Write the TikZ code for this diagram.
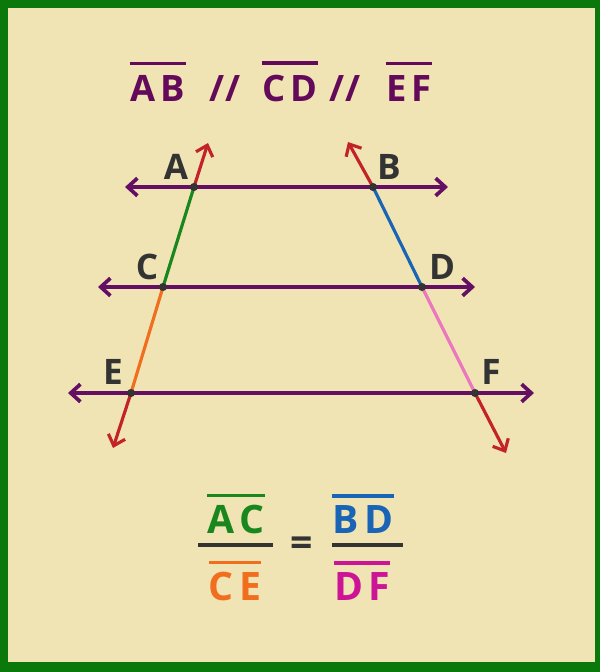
\documentclass[tikz,border=0pt]{standalone}
\usepackage{fontspec}
\setmainfont{Open Sans}
\usetikzlibrary{arrows.meta}

\definecolor{bgcol}{RGB}{240,228,180}
\definecolor{framecol}{RGB}{10,120,10}
\definecolor{parcol}{RGB}{100,15,100}
\definecolor{ttlcol}{RGB}{100,10,90}
\definecolor{raycol}{RGB}{195,35,40}
\definecolor{accol}{RGB}{25,135,30}
\definecolor{cecol}{RGB}{240,110,30}
\definecolor{bdcol}{RGB}{25,100,180}
\definecolor{dfline}{RGB}{235,120,190}
\definecolor{dfcol}{RGB}{205,20,150}
\definecolor{lblcol}{RGB}{51,51,51}

\begin{document}
\begin{tikzpicture}[x=0.02cm, y=-0.02cm,
  pline/.style={line width=2.1pt, parcol, {Straight Barb[length=5.5pt,width=10pt]}-{Straight Barb[length=5.5pt,width=10pt]}},
  tline/.style={line width=1.8pt},
  ray/.style={tline, raycol, -{Straight Barb[length=5.5pt,width=10pt]}},
  dot/.style={circle, fill=lblcol, inner sep=0pt, minimum size=4.6pt},
  pt/.style={font=\fontsize{20}{24}\selectfont\bfseries, text=lblcol, inner sep=0pt},
  ttl/.style={font=\fontsize{20.7}{24}\selectfont\bfseries, text=ttlcol, inner sep=0pt, anchor=base},
  frac/.style={font=\fontsize{22.3}{26}\selectfont\bfseries, inner sep=0pt, anchor=base},
  ovl/.style={line width=2pt}]
% Frame
\useasboundingbox (0,0) rectangle (600,672);
\fill[framecol] (0,0) rectangle (600,672);
\fill[bgcol] (8,8) rectangle (595,662);
% Title
\node[ttl] (ab) at (158,102) {A\kern3pt B};
\node[ttl] (p1) at (225,102) {//};
\node[ttl] (cd) at (290,102) {C\kern3pt D};
\node[ttl] (p2) at (345,102) {//};
\node[ttl] (ef) at (409,102) {E\kern3pt F};
\foreach \n in {ab,cd,ef}
  \draw[ovl, ttlcol] ([yshift=7pt]\n.north west) -- ([yshift=7pt]\n.north east);
% Points on the transversals
\coordinate (A) at (194,187);
\coordinate (B) at (373,187);
\coordinate (C) at (163,287);
\coordinate (D) at (422,287);
\coordinate (E) at (131,393);
\coordinate (F) at (475,393);
\coordinate (At) at (208,143);
\coordinate (Eb) at (113,448);
\coordinate (Bt) at (348,142);
\coordinate (Fb) at (506,453);
% Transversals
\draw[ray] (A) -- (At);
\draw[ray] (E) -- (Eb);
\draw[ray] (B) -- (Bt);
\draw[ray] (F) -- (Fb);
\draw[tline, accol] (A) -- (C);
\draw[tline, cecol] (C) -- (E);
\draw[tline, bdcol] (B) -- (D);
\draw[tline, dfline] (D) -- (F);
% Parallel lines
\foreach \n/\l/\r/\y in {ab/125/448/187, cd/98/475/287, ef/68/534/393} {
  \coordinate (\n l) at (\l,\y);
  \coordinate (\n r) at (\r,\y);
  \draw[pline] (\n l) -- (\n r);
}
\foreach \p in {A,B,C,D,E,F}
  \node[dot] at (\p) {};
% Labels
\node[pt] (lA) at (176,167) {A};
\node[pt] (lB) at (389,167) {B};
\node[pt] (lC) at (147,267) {C};
\node[pt] (lD) at (442,267) {D};
\node[pt] (lE) at (113,372) {E};
\node[pt] (lF) at (491,372) {F};
% Ratio
\node[frac, text=accol] (ac) at (236,533) {A\kern3pt C};
\node[frac, text=cecol] (ce) at (235,600) {C\kern3pt E};
\node[frac, text=bdcol] (bd) at (363,533) {B\kern3pt D};
\node[frac, text=dfcol] (df) at (362,600) {D\kern3pt F};
\node[frac, text=lblcol] (eq) at (302,556) {=};
\foreach \n/\c in {ac/accol, ce/cecol, bd/bdcol, df/dfcol}
  \draw[ovl, \c] ([yshift=5pt]\n.north west) -- ([yshift=5pt]\n.north east);
\coordinate (b1l) at (198,545);
\coordinate (b1r) at (273,545);
\coordinate (b2l) at (332,545);
\coordinate (b2r) at (403,545);
\draw[ovl, lblcol] (b1l) -- (b1r);
\draw[ovl, lblcol] (b2l) -- (b2r);
\end{tikzpicture}
\end{document}
